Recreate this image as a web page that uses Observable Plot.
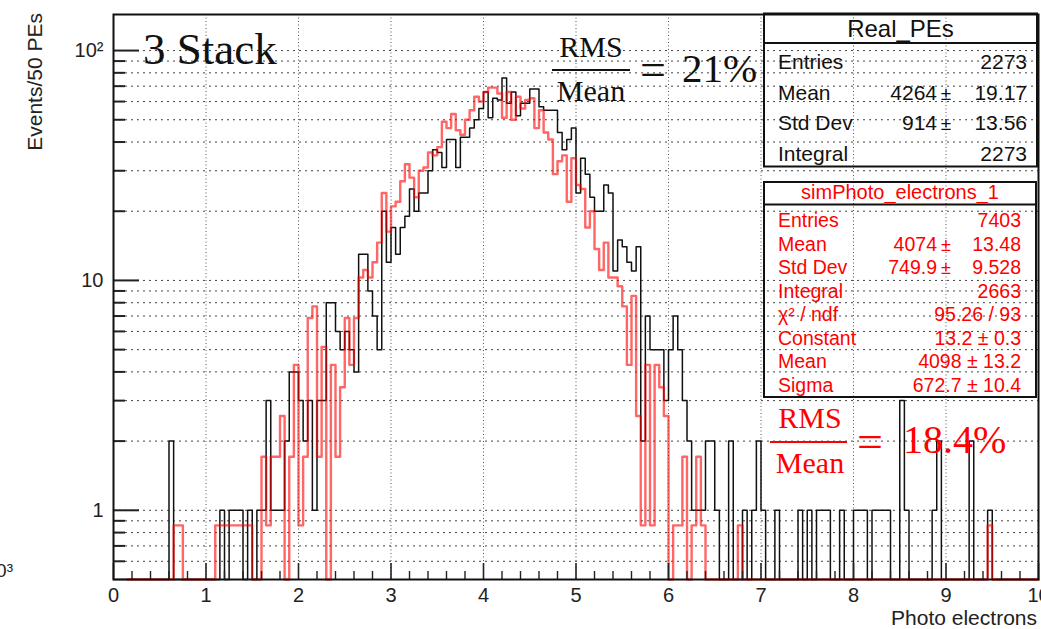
<!DOCTYPE html>
<html><head><meta charset="utf-8">
<script src="https://cdn.jsdelivr.net/npm/d3@7"></script>
<script src="https://cdn.jsdelivr.net/npm/@observablehq/plot@0.6"></script>
<style>
html,body{margin:0;padding:0;background:#fff;}
#chart{width:1041px;height:629px;overflow:hidden;position:relative;}
</style></head><body><div id="chart"></div>
<script>
// ---------- data ----------
const binWidth = 0.05;           // x in units of 10^3 photo electrons (50 PE bins)
const yFloor = 0.5;              // bottom of the log axis (empty bins drawn there)
const redFirstEdge = 0.15;       // first drawn edge of the simulated histogram

// Real_PEs (black), bins 0.00 ... 9.95
const realPEs = [
  0,0,0,0,0,0,0,0,0,0,0,0,2,0,0,0,0,0,0,0,
  0,0,0,1,0,1,1,1,0,1,0,1,1,3,1,1,1,2,4,4,
  3,2,3,1,3,3,8,8,6,5,6,5,4,13,13,9,7,5,20,12,
  17,13,17,19,25,20,24,24,30,37,36,31,41,41,31,42,42,46,50,56,
  66,51,62,61,76,59,66,52,59,59,68,68,57,55,55,55,44,37,41,46,
  24,34,29,23,20,20,26,24,11,15,14,12,11,14,2,7,5,5,5,3,
  5,7,5,3,2,1,1,1,2,2,1,0,0,2,0,0,1,0,1,2,
  1,0,0,1,0,0,0,0,1,0,1,0,1,1,1,0,0,1,0,0,
  1,1,1,0,1,1,1,1,0,0,3,1,0,0,0,0,0,1,2,0,
  0,0,0,0,0,2,0,0,0,1,0,0,0,0,0,0,0,0,0,0
];

// simPhoto_electrons_1 (red, scaled), bins 0.00 ... 9.95
const simPE = [
  0,0,0,0,0,0,0,0,0,0,0,0,0,0.86,0.86,0,0,0,0,0,
  0,0,0.86,0.86,0.86,0.86,0.86,0.86,0.86,0.86,0,0,1.71,0.86,1.71,1.71,2.57,0,1.71,4.29,
  0.86,1.71,6.86,7.71,1.71,5.14,0,4.29,1.71,3.43,6.86,4.29,6.86,10.3,11.1,10.3,12,14.6,24,16.3,
  21,22,27,32,28,23,30,31,36,35,38,49,46,53,45,43,50,55,63,60,
  66,69,69,65,51,66,50,63,56,61,62,46,55,44,41,29,33,35,22,34,
  26,25,17,20,13.7,11.1,14.6,10.3,10.3,9.43,7.71,4.29,8.57,2.57,0.86,4.29,0.86,4.29,3.43,2.57,
  0,0.86,0.86,1.71,0,0.86,1.71,0.86,0,0,0,0,0,0,0,0.86,0,0,0,0,
  0,0,0,0,0,0,0,0,0,0,0,0,0,0,0,0,0,0,0,0,
  0,0,0,0,0,0,0,0,0,0,0,0,0,0,0,0,0,0,0,0,
  0,0,0,0,0,0,0,0,0,0.86,0,0,0,0,0,0,0,0,0,0
];

const xMajorTicks = [0,1,2,3,4,5,6,7,8,9,10];
const xTickLabels = ["0","1","2","3","4","5","6","7","8","9","10"];
const xMinorTicks = [0.2,0.4,0.6,0.8,1.2,1.4,1.6,1.8,2.2,2.4,2.6,2.8,3.2,3.4,3.6,3.8,4.2,4.4,4.6,4.8,
                     5.2,5.4,5.6,5.8,6.2,6.4,6.6,6.8,7.2,7.4,7.6,7.8,8.2,8.4,8.6,8.8,9.2,9.4,9.6,9.8];
const xGridTicks = [1,2,3,4,5,6,7,8,9];
const yMajorTicks = [1,10,100];
const yTickLabels = ["1","10","10²"];
const yMinorTicks = [0.6,0.7,0.8,0.9,2,3,4,5,6,7,8,9,20,30,40,50,60,70,80,90];
const yGridTicks = [0.6,0.7,0.8,0.9,1,2,3,4,5,6,7,8,9,10,20,30,40,50,60,70,80,90,100];

const xTitle = "Photo electrons";
const yTitle = "Events/50 PEs";
const stackLabel = "3 Stack";

const realStatsTitle = "Real_PEs";
const realStatsNames = ["Entries","Mean","Std Dev","Integral"];
const realStatsLeft  = ["", "4264", "914", ""];
const realStatsRight = ["2273", "19.17", "13.56", "2273"];

const simStatsTitle = "simPhoto_electrons_1";
const simStatsNames = ["Entries","Mean","Std Dev","Integral","χ² / ndf","Constant","Mean","Sigma"];
const simStatsLeft  = ["", "4074", "749.9", "", "", "", "", ""];
const simStatsRight = ["7403","13.48","9.528","2663","95.26 / 93","13.2 ± 0.3","4098 ± 13.2","672.7 ± 10.4"];

const realRatio = {num:"RMS", den:"Mean", value:"21%"};
const simRatio  = {num:"RMS", den:"Mean", value:"18.4%"};

// ---------- build ----------
function steps(values, firstEdge) {
  const pts = [];
  const start = Math.round(firstEdge / binWidth);
  for (let i = start; i < values.length; i++) pts.push({x: i * binWidth, v: Math.max(values[i], yFloor)});
  pts.push({x: values.length * binWidth, v: Math.max(values[values.length - 1], yFloor)});
  return pts;
}
const blackSteps = steps(realPEs, 0);
const redSteps = steps(simPE, redFirstEdge);

const W = 1041, H = 629;
const mL = 113, mR = 3, mT = 14, mB = 50;
const fw = W - mL - mR, fh = H - mT - mB;
const sans = "'Liberation Sans', Arial, Helvetica, sans-serif";
const serif = "'Liberation Serif', 'Times New Roman', serif";

const chart = Plot.plot({
  width: W, height: H,
  marginLeft: mL, marginRight: mR, marginTop: mT, marginBottom: mB,
  x: {domain: [0, 10]},
  y: {type: "log", domain: [yFloor, 143.5]},
  style: {fontFamily: sans, background: "white", color: "#222"},
  marks: [
    Plot.ruleY(yGridTicks, {stroke: "#222", strokeDasharray: "2,4", strokeWidth: 1, strokeOpacity: 0.85}),
    Plot.ruleX(xGridTicks, {stroke: "#555", strokeDasharray: "1,2.5", strokeWidth: 1}),
    Plot.line(blackSteps, {x: "x", y: "v", curve: "step-after", stroke: "#111", strokeWidth: 1.5}),
    Plot.line(redSteps, {x: "x", y: "v", curve: "step-after", stroke: "#ff0000", strokeOpacity: 0.6, strokeWidth: 2.4}),
    Plot.ruleX(xMajorTicks, {insetTop: fh - 16, stroke: "#222", strokeWidth: 1.6}),
    Plot.ruleX(xMinorTicks, {insetTop: fh - 8, stroke: "#222", strokeWidth: 1.4}),
    Plot.ruleY(yMajorTicks, {insetRight: fw - 26, stroke: "#222", strokeWidth: 2}),
    Plot.ruleY(yMinorTicks, {insetRight: fw - 12, stroke: "#222", strokeWidth: 2}),
    Plot.axisX({ticks: xMajorTicks, tickSize: 0, tickPadding: 8, fontSize: 20, label: null,
                tickFormat: d => xTickLabels[xMajorTicks.indexOf(d)]}),
    Plot.axisY({ticks: yMajorTicks, tickSize: 0, tickPadding: 10, fontSize: 20, label: null,
                tickFormat: d => yTickLabels[yMajorTicks.indexOf(d)]}),
    Plot.frame({stroke: "#111", strokeWidth: 2})
  ]
});
document.getElementById("chart").appendChild(chart);

// ---------- annotations (pixel layout) ----------
const svg = d3.select(chart);
function txt(x, y, s, o = {}) {
  return svg.append("text").attr("x", x).attr("y", y).text(s)
    .attr("font-family", o.family || sans).attr("font-size", o.size || 20)
    .attr("fill", o.fill || "#111").attr("text-anchor", o.anchor || "start");
}
// axis titles
txt(1037, 625, xTitle, {size: 21, anchor: "end", fill: "#222"});
svg.append("text").attr("transform", "translate(42,13) rotate(-90)").text(yTitle)
  .attr("font-family", sans).attr("font-size", 21).attr("fill", "#222").attr("text-anchor", "end");
txt(13, 577, "10³", {size: 19, anchor: "end", fill: "#222"});

// 3 Stack
txt(143, 64, stackLabel, {family: serif, size: 45});

// Real stats box
svg.append("rect").attr("x", 764).attr("y", 13.5).attr("width", 273).attr("height", 153)
  .attr("fill", "none").attr("stroke", "#111").attr("stroke-width", 2);
svg.append("line").attr("x1", 764).attr("x2", 1037).attr("y1", 43).attr("y2", 43).attr("stroke", "#111").attr("stroke-width", 2);
txt(900.5, 37, realStatsTitle, {size: 24, anchor: "middle"});
realStatsNames.forEach((n, i) => {
  const y = 69 + i * 30.5;
  txt(778, y, n, {size: 21});
  txt(1027, y, realStatsRight[i], {size: 21, anchor: "end"});
  if (realStatsLeft[i]) {
    txt(937, y, realStatsLeft[i], {size: 21, anchor: "end"});
    txt(946, y, "±", {size: 19, anchor: "middle"});
  }
});

// Sim stats box
svg.append("rect").attr("x", 764).attr("y", 182).attr("width", 272).attr("height", 215)
  .attr("fill", "none").attr("stroke", "#111").attr("stroke-width", 2);
svg.append("line").attr("x1", 764).attr("x2", 1036).attr("y1", 204.5).attr("y2", 204.5).attr("stroke", "#111").attr("stroke-width", 2);
txt(900, 199, simStatsTitle, {size: 20, anchor: "middle", fill: "#ff0000"});
simStatsNames.forEach((n, i) => {
  const y = 227 + i * 23.5;
  txt(778, y, n, {size: 19.5, fill: "#ff0000"});
  txt(1021, y, simStatsRight[i], {size: 19.5, anchor: "end", fill: "#ff0000"});
  if (simStatsLeft[i]) {
    txt(937, y, simStatsLeft[i], {size: 19.5, anchor: "end", fill: "#ff0000"});
    txt(946, y, "±", {size: 18, anchor: "middle", fill: "#ff0000"});
  }
});

// RMS / Mean fractions
function fraction(r, cx, yNum, yBar, yDen, x0, x1, eqX, valX, valY, color, valSize) {
  txt(cx, yNum, r.num, {family: serif, size: 30, anchor: "middle", fill: color});
  svg.append("line").attr("x1", x0).attr("x2", x1).attr("y1", yBar).attr("y2", yBar)
    .attr("stroke", color).attr("stroke-width", 2);
  txt(cx, yDen, r.den, {family: serif, size: 30, anchor: "middle", fill: color});
  txt(eqX, yBar + 15, "=", {family: serif, size: 46, anchor: "middle", fill: color});
  txt(valX, valY, r.value, {family: serif, size: valSize, fill: color});
}
fraction(realRatio, 591, 57, 70, 101, 552, 630, 653, 682, 82, "#111", 41);
fraction(simRatio, 810, 428, 442, 473, 770, 847, 870, 903, 453, "#ff0000", 40);
</script></body></html>
